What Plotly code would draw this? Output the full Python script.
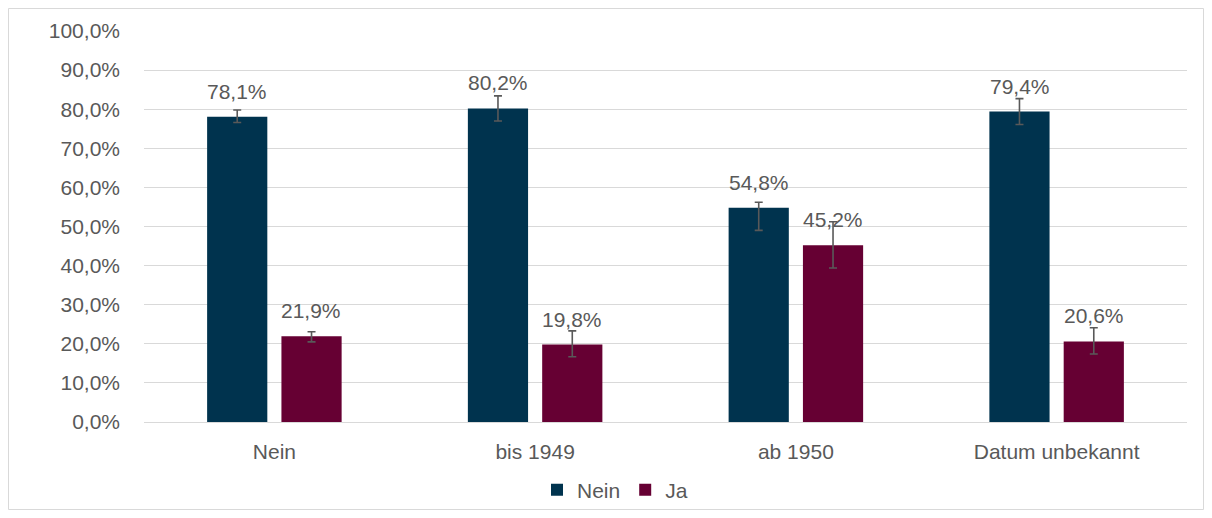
import plotly.graph_objects as go

categories = ["Nein", "bis 1949", "ab 1950", "Datum unbekannt"]
nein_vals = [78.1, 80.2, 54.8, 79.4]
ja_vals = [21.9, 19.8, 45.2, 20.6]
nein_err_plus = [1.7, 3.2, 1.4, 3.3]
nein_err_minus = [1.5, 3.2, 5.8, 3.3]
ja_err_plus = [1.2, 3.5, 6.0, 3.5]
ja_err_minus = [1.4, 3.1, 5.8, 3.2]
y_ticks = [0, 10, 20, 30, 40, 50, 60, 70, 80, 90, 100]


def fmt(v):
    return f"{v:.1f}".replace(".", ",") + "%"


FONT = "Liberation Sans, Arial, sans-serif"
GREY = "#595959"
FS = 21

# page has an 8px body margin; figure coordinates below are relative to the figure
W, H = 1196, 502
L, T = 136, 23
R = W - 1179
B = H - 414
pw, ph = W - L - R, H - T - B


def px_x(p):
    return (p - L) / pw


def px_y(p):
    return (H - B - p) / ph


fig = go.Figure()
series = [
    ("Nein", nein_vals, nein_err_plus, nein_err_minus, "#00334E", -37),
    ("Ja", ja_vals, ja_err_plus, ja_err_minus, "#660033", 37),
]
for name, vals, ep, em, col, xs in series:
    fig.add_trace(go.Bar(
        name=name, x=categories, y=vals,
        marker=dict(color=col, line=dict(width=0)),
        error_y=dict(type="data", symmetric=False, array=ep, arrayminus=em,
                     color=GREY, thickness=1.6, width=4),
    ))
    for c, v in zip(categories, vals):
        fig.add_annotation(x=c, y=v, xref="x", yref="y", text=fmt(v),
                           showarrow=False, xshift=xs, yshift=12, yanchor="bottom",
                           xanchor="center",
                           font=dict(family=FONT, size=FS, color=GREY))

fig.add_shape(type="rect", xref="paper", yref="paper",
              x0=px_x(0.5), x1=px_x(W - 0.5), y0=px_y(H - 0.5), y1=px_y(0.5),
              line=dict(color="#D9D9D9", width=1), fillcolor="rgba(0,0,0,0)", layer="below")

fig.update_layout(
    width=W, height=H,
    margin=dict(l=L, r=R, t=T, b=B, autoexpand=False),
    paper_bgcolor="white", plot_bgcolor="white",
    barmode="group", bargap=0.43, bargroupgap=0.19,
    font=dict(family=FONT, size=FS, color=GREY),
    showlegend=True,
    legend=dict(orientation="h", x=px_x(607), xanchor="center", y=px_y(482), yanchor="middle",
                bgcolor="rgba(0,0,0,0)",
                font=dict(size=FS, color=GREY), traceorder="normal"),
    xaxis=dict(showgrid=False, showline=False, ticks="", ticklabelstandoff=15,
               tickfont=dict(size=FS, color=GREY)),
    yaxis=dict(range=[0, 100], tickvals=y_ticks, ticktext=[fmt(t) for t in y_ticks],
               showgrid=True, gridcolor="#D9D9D9", gridwidth=1,
               zeroline=True, zerolinecolor="#D9D9D9", zerolinewidth=1,
               showline=False, ticks="", ticklabelstandoff=23,
               tickfont=dict(size=FS, color=GREY)),
)

fig.write_html("out.html")
